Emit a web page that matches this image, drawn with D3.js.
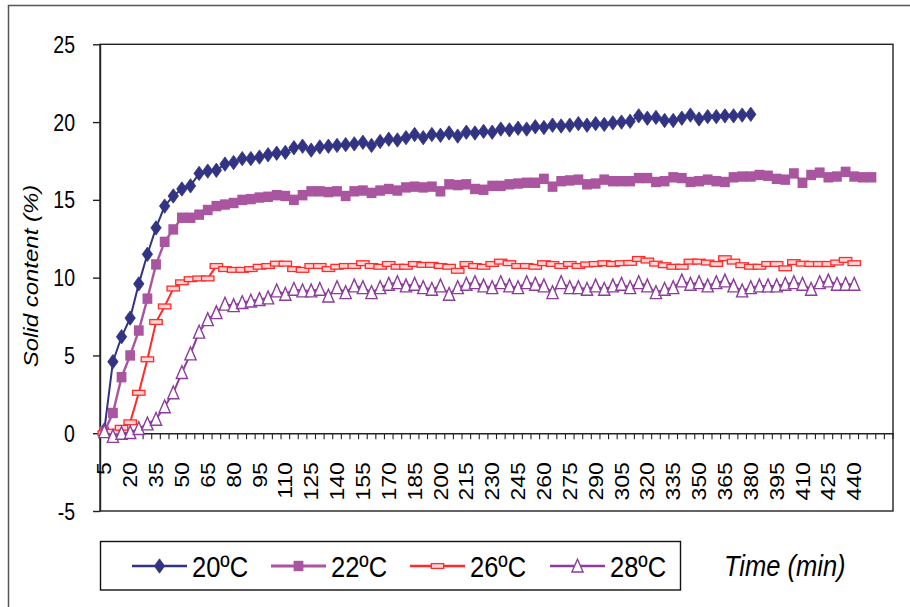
<!DOCTYPE html>
<html><head><meta charset="utf-8">
<script src="https://cdn.jsdelivr.net/npm/d3@7"></script>
<style>body{margin:0;background:#fff} svg{display:block} text{font-family:"Liberation Sans",Arial,sans-serif;fill:#000}</style>
</head><body>
<svg id="chart" width="910" height="607"></svg>
<script>
// ---- data ----
const categories = [5,10,15,20,25,30,35,40,45,50,55,60,65,70,75,80,85,90,95,100,105,110,115,120,125,130,135,140,145,150,155,160,165,170,175,180,185,190,195,200,205,210,215,220,225,230,235,240,245,250,255,260,265,270,275,280,285,290,295,300,305,310,315,320,325,330,335,340,345,350,355,360,365,370,375,380,385,390,395,400,405,410,415,420,425,430,435,440,445,450,455,460];
const xTickLabels = [5,20,35,50,65,80,95,110,125,140,155,170,185,200,215,230,245,260,275,290,305,320,335,350,365,380,395,410,425,440];
const yTicks = [-5,0,5,10,15,20,25];
const seriesNames = ["20ºC","22ºC","26ºC","28ºC"];
const s20 = [0.2,4.6,6.2,7.4,9.6,11.5,13.2,14.6,15.25,15.7,
  15.9,16.7,16.85,16.9,17.3,17.4,17.65,17.65,17.75,17.9,
  18.0,18.05,18.35,18.45,18.2,18.4,18.45,18.5,18.55,18.6,
  18.7,18.5,18.75,18.9,18.85,19.0,19.2,19.0,19.2,19.15,
  19.3,19.1,19.35,19.3,19.4,19.35,19.55,19.5,19.6,19.55,
  19.7,19.65,19.8,19.75,19.8,19.9,19.8,19.9,19.85,19.95,
  20.0,20.05,20.4,20.25,20.3,20.1,20.1,20.25,20.45,20.2,
  20.35,20.35,20.4,20.4,20.45,20.5];
const s22 = [0.1,1.3,3.6,5.0,6.6,8.65,10.85,12.3,13.1,13.85,
  13.85,14.05,14.35,14.6,14.7,14.8,15.0,15.05,15.15,15.2,
  15.3,15.25,15.0,15.3,15.55,15.55,15.5,15.55,15.25,15.55,
  15.6,15.45,15.6,15.7,15.6,15.8,15.85,15.8,15.85,15.55,
  16.0,15.95,16.0,15.7,15.65,15.9,15.9,16.0,16.05,16.1,
  16.1,16.35,15.85,16.2,16.25,16.3,16.0,16.05,16.3,16.2,
  16.2,16.2,16.4,16.4,16.15,16.2,16.45,16.4,16.15,16.2,
  16.3,16.2,16.15,16.45,16.5,16.5,16.6,16.55,16.35,16.3,
  16.7,16.1,16.6,16.75,16.45,16.5,16.8,16.5,16.45,16.45];
const s26 = [0.0,0.1,0.35,0.7,2.6,4.75,7.15,8.15,9.3,9.7,
  9.9,9.95,9.95,10.75,10.55,10.5,10.5,10.55,10.7,10.75,
  10.9,10.9,10.55,10.5,10.75,10.75,10.55,10.7,10.75,10.75,
  10.93,10.75,10.7,10.88,10.7,10.7,10.88,10.82,10.82,10.75,
  10.7,10.44,10.88,10.75,10.7,10.88,11.03,10.93,10.75,10.75,
  10.7,10.93,10.88,10.75,10.88,10.75,10.85,10.88,10.93,10.88,
  10.93,10.95,11.2,11.1,10.9,10.8,10.7,10.7,11.03,11.03,
  10.97,10.88,11.25,11.03,10.8,10.7,10.7,10.88,10.88,10.6,
  11.0,10.9,10.88,10.88,10.88,10.97,11.14,10.93];
const s28 = [0.1,-0.2,0.0,0.05,0.3,0.6,0.9,1.7,2.6,3.9,
  5.1,6.5,7.3,7.75,8.3,8.2,8.4,8.5,8.6,8.7,
  9.15,8.93,9.25,9.15,9.15,9.25,8.82,9.36,9.04,9.47,
  9.36,9.04,9.36,9.58,9.68,9.47,9.58,9.36,9.25,9.47,
  8.93,9.36,9.58,9.68,9.47,9.36,9.68,9.47,9.36,9.68,
  9.58,9.47,9.04,9.68,9.36,9.36,9.25,9.47,9.25,9.47,
  9.58,9.36,9.68,9.47,9.04,9.25,9.36,9.79,9.58,9.68,
  9.47,9.68,9.79,9.47,9.15,9.36,9.47,9.47,9.47,9.58,
  9.68,9.58,9.25,9.68,9.79,9.58,9.58,9.58];
const colors = ["#333383","#a9559f","#ff2a2a","#8c3d9c"];

// ---- layout ----
const SX = 0.85; // horizontal squeeze of the original lettering
const L = 100, R = 893, T = 44.3, B = 511;
const svg = d3.select("#chart");
svg.append("path").attr("d","M8.5,607V5.5H910").attr("fill","none").attr("stroke","#555").attr("stroke-width",1.5);

const x = d3.scaleBand().domain(categories).range([L, R]).paddingInner(0).paddingOuter(0);
const cx = c => x(c) + x.bandwidth()/2;
const y = d3.scaleLinear().domain([-5, 25]).range([B, T]);

// plot box
svg.append("rect").attr("x",L).attr("y",T).attr("width",R-L).attr("height",B-T)
  .attr("fill","none").attr("stroke","#222").attr("stroke-width",1.4);

// y axis
const gy = svg.append("g").attr("transform",`translate(${L},0)`)
  .call(d3.axisLeft(y).tickValues(yTicks).tickSize(7).tickSizeOuter(0).tickFormat(d => String(d)));
gy.select(".domain").attr("stroke","#222").attr("stroke-width",1.4);
gy.selectAll(".tick line").attr("stroke","#222").attr("stroke-width",1.4);
gy.selectAll(".tick text").attr("x",null).attr("dy","0.35em").attr("text-anchor","end")
  .attr("transform",`translate(-25,0) scale(${SX},1)`).style("font-size","23px").attr("fill","#000");

// x axis at y=0
const gx = svg.append("g").attr("transform",`translate(0,${y(0)})`)
  .call(d3.axisBottom(x).tickValues(xTickLabels).tickSize(0).tickSizeOuter(0));
gx.select(".domain").attr("stroke","#222").attr("stroke-width",1.4);
gx.selectAll(".tick text").attr("y",null).attr("x",null).attr("dy","0.36em").attr("text-anchor","end")
  .attr("transform",`translate(0,29) scale(${SX},1) rotate(-90)`).style("font-size","23px").attr("fill","#000");
// boundary tick marks
const bounds = categories.map(c => x(c)).concat([x(categories[categories.length-1]) + x.bandwidth()]);
gx.selectAll("line.bt").data(bounds).join("line").attr("class","bt")
  .attr("x1",d=>d).attr("x2",d=>d).attr("y1",0).attr("y2",6).attr("stroke","#222").attr("stroke-width",1.1);

// series
const series = [s20, s22, s26, s28];
const markers = [
  g => g.append("path").attr("d","M0,-7.2L5.2,0L0,7.2L-5.2,0Z").attr("fill",colors[0]).attr("stroke",colors[0]).attr("stroke-width",0.8),
  g => g.append("rect").attr("x",-4.9).attr("y",-5.2).attr("width",9.8).attr("height",10.4).attr("fill",colors[1]),
  g => g.append("rect").attr("x",-6.2).attr("y",-2.4).attr("width",12.4).attr("height",4.8).attr("fill","#ffd6d6").attr("stroke",colors[2]).attr("stroke-width",1.3),
  g => g.append("path").attr("d","M0,-6.8L5.6,6L-5.6,6Z").attr("fill","#fff").attr("stroke",colors[3]).attr("stroke-width",1.4)
];
const lineW = [2, 2.4, 2, 2];
const plot = svg.append("g");
series.forEach((vals, si) => {
  const pts = vals.map((v,i) => [cx(categories[i]), y(v)]);
  plot.append("path").attr("d", d3.line()(pts)).attr("fill","none").attr("stroke",colors[si]).attr("stroke-width",lineW[si]);
  const mg = plot.append("g");
  pts.forEach(p => { const g = mg.append("g").attr("transform",`translate(${p[0]},${p[1]})`); markers[si](g); });
});

// y axis title
svg.append("text").attr("transform",`translate(38,276) scale(${SX},1) rotate(-90)`)
  .attr("text-anchor","middle").style("font-size","24px").style("font-style","italic").text("Solid content (%)");

// legend
svg.append("rect").attr("x",100.5).attr("y",541.5).attr("width",580).attr("height",48.5)
  .attr("fill","#fff").attr("stroke","#111").attr("stroke-width",1.4);
const legX = [132, 271, 410, 550];
seriesNames.forEach((name, si) => {
  const g = svg.append("g").attr("transform",`translate(${legX[si]},566)`);
  g.append("line").attr("x1",0).attr("x2",55).attr("y1",0).attr("y2",0).attr("stroke",colors[si]).attr("stroke-width",lineW[si]+0.6);
  markers[si](g.append("g").attr("transform","translate(27.5,0)"));
  g.append("text").attr("transform",`translate(60,11) scale(${SX},1)`).style("font-size","30px").text(name);
});
svg.append("text").attr("transform",`translate(724,576) scale(${SX},1)`).style("font-size","30px").style("font-style","italic").text("Time (min)");
</script>
</body></html>
